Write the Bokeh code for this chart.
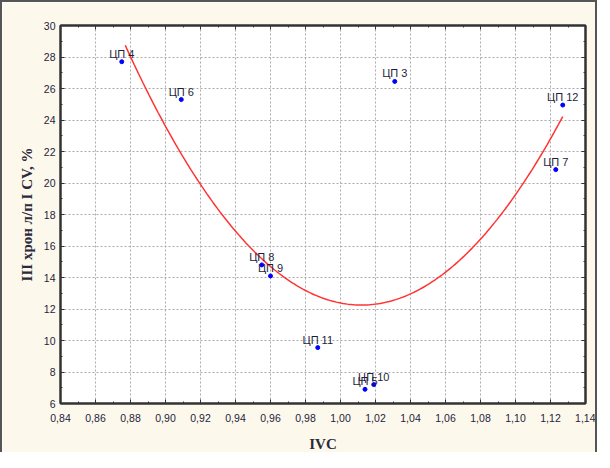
from bokeh.plotting import figure
from bokeh.models import LinearAxis, CustomJSTickFormatter, FixedTicker, ColumnDataSource, Range1d
from bokeh.embed import file_html
from bokeh.resources import INLINE
from bokeh.core.properties import value
import numpy as np

# data
names = ["ЦП 3", "ЦП 4", "ЦП 5", "ЦП 6", "ЦП 7", "ЦП 8", "ЦП 9", "ЦП 10", "ЦП 11", "ЦП 12"]
ivc = [1.031, 0.875, 1.014, 0.909, 1.123, 0.955, 0.960, 1.019, 0.987, 1.127]
cv = [26.45, 27.7, 6.9, 25.3, 20.85, 14.8, 14.1, 7.2, 9.55, 24.95]

# fitted quadratic (vertex form)
fit_a = 905.0
fit_x0 = 1.012
fit_y0 = 12.25
fit_xmin = 0.877
fit_xmax = 1.127

x_ticks = [0.84, 0.86, 0.88, 0.90, 0.92, 0.94, 0.96, 0.98, 1.00, 1.02, 1.04, 1.06, 1.08, 1.10, 1.12, 1.14]
y_ticks = [6, 8, 10, 12, 14, 16, 18, 20, 22, 24, 26, 28, 30]
x_label = "IVC"
y_label = "III хрон л/п I CV, %"

BG = "#fdf8ec"
TXT = "#1e1e3c"

p = figure(width=597, height=452, output_backend="svg", toolbar_location=None,
           x_range=Range1d(0.84, 1.14), y_range=Range1d(6, 30),
           min_border_left=58, min_border_right=14, min_border_top=23, min_border_bottom=50,
           background_fill_color="white", border_fill_color=BG)
p.styles = {"border-left": "2px solid #555", "border-top": "2px solid #555", "border-right": "2px solid #555"}
p.outline_line_color = "#333333"
p.outline_line_width = 2

xt = FixedTicker(ticks=x_ticks, minor_ticks=[round(0.84 + 0.01 * i, 2) for i in range(31)])
yt = FixedTicker(ticks=y_ticks, minor_ticks=list(range(6, 31)))

fmt = CustomJSTickFormatter(code="return tick.toFixed(2).replace('.', ',');")
blank = CustomJSTickFormatter(code="return '';")

bottom = p.below[0]
left = p.left[0]
bottom.ticker = xt
bottom.formatter = fmt
left.ticker = yt

top = LinearAxis(ticker=xt, formatter=blank)
right = LinearAxis(ticker=yt, formatter=blank)
p.add_layout(top, "above")
p.add_layout(right, "right")

for ax in [bottom, left, top, right]:
    ax.major_tick_in = 4
    ax.major_tick_out = 0
    ax.minor_tick_in = 2
    ax.minor_tick_out = 0
    ax.major_tick_line_color = "#333333"
    ax.minor_tick_line_color = "#333333"
    ax.axis_line_color = "#333333"
    ax.axis_line_width = 2
    ax.major_label_text_font = "Liberation Sans"
    ax.major_label_text_font_size = "10.5px"
    ax.major_label_text_color = TXT
for ax in [top, right]:
    ax.major_label_standoff = 0
bottom.major_label_standoff = 10
left.major_label_standoff = 5

bottom.axis_label = x_label
left.axis_label = y_label
for ax in [bottom, left]:
    ax.axis_label_text_font = "Liberation Serif"
    ax.axis_label_text_font_size = "15px"
    ax.axis_label_text_font_style = "bold"
    ax.axis_label_text_color = "#2a2a3a"
bottom.axis_label_standoff = 11
left.axis_label_standoff = 6

p.xgrid.ticker = xt
p.ygrid.ticker = yt
p.grid.grid_line_color = "#aaaaaa"
p.grid.grid_line_dash = "2 2"
p.grid.grid_line_width = 1

# fitted curve
cx = np.linspace(fit_xmin, fit_xmax, 200)
cy = fit_a * (cx - fit_x0) ** 2 + fit_y0
p.line(cx, cy, line_color="#ff3333", line_width=1.5)

src = ColumnDataSource(dict(x=ivc, y=cv, name=names))
p.scatter("x", "y", source=src, size=4, color="#0000ff", line_color="#0000ff")
p.text("x", "y", text="name", source=src, text_align="center", text_baseline="alphabetic",
       y_offset=-8, text_font=value("Liberation Sans"), text_font_size="11px", text_color=TXT)

open("out.html", "w").write(file_html(p, INLINE))
